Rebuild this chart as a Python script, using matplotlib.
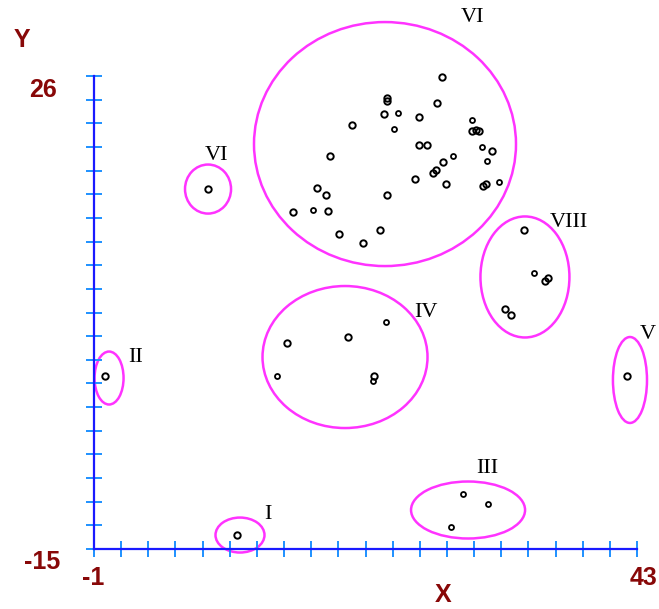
import numpy as np
import matplotlib
matplotlib.use("Agg")
import matplotlib.pyplot as plt
from matplotlib.patches import Ellipse

# Точки (x, y); маленькие точки отдельно.
pts_x = [27.17, 22.72, 22.72, 26.77, 22.52, 25.36, 19.88, 29.61, 29.95, 30.20,
         25.36, 25.96, 31.23, 18.12, 27.30, 26.49, 26.71, 25.01, 27.50, 30.55,
         30.76, 17.05, 17.80, 22.72, 15.10, 17.99, 18.83, 20.82, 22.17,
         14.61, 19.56, 21.71,
         33.87, 35.81, 35.55, 32.30, 32.77,
         42.17, 8.26, -0.11, 10.59]
pts_y = [25.89, 24.09, 23.83, 23.63, 22.70, 22.47, 21.73, 21.26, 21.32, 21.19,
         20.02, 20.02, 19.47, 19.06, 18.52, 17.59, 17.85, 17.04, 16.64, 16.49,
         16.64, 16.29, 15.71, 15.68, 14.18, 14.32, 12.30, 11.55, 12.65,
         2.83, 3.40, 0.0,
         12.65, 8.46, 8.26, 5.80, 5.28,
         0.0, 16.20, 0.0, -13.79]
small_x = [23.61, 23.33, 29.61, 30.42, 28.11, 30.82, 31.84, 16.77,
           22.64, 13.80, 21.63, 34.65, 28.92, 30.90, 27.93]
small_y = [22.77, 21.40, 22.18, 19.82, 19.06, 18.63, 16.84, 14.38,
           4.70, 0.0, -0.44, 8.90, -10.23, -11.13, -13.07]

# Кластеры: подпись, центр, ширина, высота, место подписи
cl_names = ["VI", "VI", "VIII", "IV", "II", "V", "III", "I"]
cl_cx = [22.58, 8.24, 33.92, 19.34, 0.22, 42.43, 29.31, 10.83]
cl_cy = [20.10, 16.20, 8.58, 1.64, -0.18, -0.35, -11.62, -13.79]
cl_w = [21.23, 3.73, 7.21, 13.37, 2.35, 2.76, 9.24, 3.97]
cl_h = [21.15, 4.25, 10.49, 12.31, 4.59, 7.45, 4.94, 3.03]
lab_x = [29.71, 8.89, 37.49, 25.90, 2.40, 43.89, 30.85, 13.10]
lab_y = [31.11, 19.15, 13.34, 5.54, 1.64, 3.55, -7.98, -12.05]

xmin, xmax = -1, 43
ymin, ymax = -15, 26

W, H = 659, 609
fig = plt.figure(figsize=(W / 100, H / 100), dpi=100)
ax = fig.add_axes([94 / W, 60 / H, 543 / W, 473 / H])
ax.set_xlim(xmin, xmax)
ax.set_ylim(ymin, ymax)

for s in ["top", "right"]:
    ax.spines[s].set_visible(False)
for s in ["left", "bottom"]:
    ax.spines[s].set_color("#1a1aff")
    ax.spines[s].set_linewidth(1.6)

ax.set_xticks(np.linspace(xmin, xmax, 21))
ax.set_yticks(np.linspace(ymin, ymax, 21))
ax.set_xticklabels([])
ax.set_yticklabels([])
ax.tick_params(direction="inout", length=11.5, width=1.4, color="#1e90ff")

for i in range(len(cl_names)):
    ax.add_patch(Ellipse((cl_cx[i], cl_cy[i]), cl_w[i], cl_h[i], fill=False,
                         edgecolor="#ff33ff", linewidth=1.8, clip_on=False))
    ax.text(lab_x[i], lab_y[i], cl_names[i], family="Liberation Serif",
            fontsize=16, ha="center", va="center", clip_on=False)

ax.plot(pts_x, pts_y, "o", mfc="none", mec="black", ms=4.6, mew=1.4,
        clip_on=False)
ax.plot(small_x, small_y, "o", mfc="none", mec="black", ms=3.6, mew=1.3,
        clip_on=False)

red = "#880808"
tkw = dict(color=red, fontsize=18, fontweight="bold", family="Liberation Sans",
           ha="center", va="center")
fig.text(43 / W, 1 - 90 / H, str(ymax), **tkw)
fig.text(42 / W, 1 - 562 / H, str(ymin), **tkw)
fig.text(93 / W, 1 - 578 / H, str(xmin), **tkw)
fig.text(643 / W, 1 - 578 / H, str(xmax), **tkw)
fig.text(22 / W, 1 - 40 / H, "Y", **tkw)
fig.text(443 / W, 1 - 595 / H, "X", **tkw)

fig.savefig("out.png", dpi=100)
